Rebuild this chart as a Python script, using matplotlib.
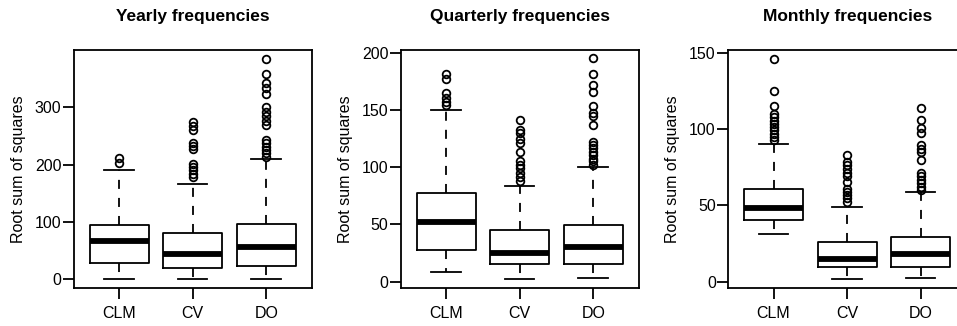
import matplotlib
matplotlib.use("Agg")
import matplotlib.pyplot as plt

plt.rcParams['font.family'] = ['Liberation Sans', 'DejaVu Sans']

groups = ["CLM", "CV", "DO"]
titles = ["Yearly frequencies", "Quarterly frequencies", "Monthly frequencies"]

# box stats per panel: [whislo, q1, median, q3, whishi] for CLM, CV, DO
yearly_stats = [[1, 29, 67, 95, 191],
                [0.5, 20, 45, 80, 167],
                [0.5, 23, 57, 97, 210]]
yearly_out = [[203, 212],
              [179, 184, 191, 196, 202, 227, 233, 238, 260, 267, 275],
              [214, 220, 226, 231, 237, 243, 269, 276, 284, 292, 300, 324, 334, 342, 358, 384]]

quarterly_stats = [[8, 28, 52, 77.5, 150],
                   [2, 15.5, 25, 45, 83.5],
                   [3.5, 15.5, 30, 49.5, 100]]
quarterly_out = [[154, 157, 160.5, 164.5, 177, 181],
                 [88, 91.5, 95, 99, 102, 105, 113.5, 121, 125, 129.5, 132.5, 141],
                 [102, 105, 107.5, 110.5, 113.5, 116.5, 119.5, 122, 137, 145, 147, 153, 166, 172, 181, 195]]

monthly_stats = [[31.5, 40.5, 48.5, 60.5, 90],
                 [1.5, 9.6, 15, 26.2, 49],
                 [2.6, 9.6, 18, 29.5, 58.5]]
monthly_out = [[93, 95, 97, 99, 101.5, 103, 105.5, 108, 110, 115, 125, 146],
               [52.5, 54.5, 57, 59, 61, 65.5, 69, 71, 74, 76.5, 78.5, 83],
               [60, 62, 64.5, 66.5, 69, 71, 80, 85, 87, 89.5, 97.5, 100.5, 106, 114]]

all_stats = [yearly_stats, quarterly_stats, monthly_stats]
all_out = [yearly_out, quarterly_out, monthly_out]
yticks = [[0, 100, 200, 300], [0, 50, 100, 150, 200], [0, 50, 100, 150]]
ylims = [(-14.3, 400), (-5.1, 202.3), (-3.8, 151.7)]

W, H = 957, 326
fig = plt.figure(figsize=(W / 100, H / 100), dpi=100)

lefts = [73.5, 400.5, 728]
aw, ab, ah = 238.3, 326 - 287.5, 237.5

lw = 1.3
for k in range(3):
    ax = fig.add_axes([lefts[k] / W, ab / H, aw / W, ah / H])
    stats = []
    for g, s, o in zip(groups, all_stats[k], all_out[k]):
        stats.append(dict(label=g, whislo=s[0], q1=s[1], med=s[2], q3=s[3],
                          whishi=s[4], fliers=o))
    ax.bxp(stats, positions=[1, 2, 3], widths=0.8,
           boxprops=dict(color="black", lw=lw),
           medianprops=dict(color="black", lw=4.2, solid_capstyle="butt"),
           whiskerprops=dict(color="black", lw=lw, linestyle=(0, (5, 5))),
           capprops=dict(color="black", lw=lw),
           flierprops=dict(marker="o", markerfacecolor="none",
                           markeredgecolor="black", markersize=5.5,
                           markeredgewidth=1.3),
           capwidths=0.4)
    ax.set_xlim(0.38, 3.62)
    ax.set_ylim(*ylims[k])
    ax.set_yticks(yticks[k])
    ax.set_xticks([1, 2, 3])
    ax.set_xticklabels(groups)
    for sp in ax.spines.values():
        sp.set_linewidth(lw)
    ax.tick_params(axis="both", direction="out", length=8, width=lw,
                   labelsize=11.5)
    ax.tick_params(axis="y", pad=0.8)
    ax.tick_params(axis="x", pad=5)
    ax.set_title(titles[k], fontsize=12.5, fontweight="bold", pad=21)
    ax.set_ylabel("Root sum of squares", fontsize=11.5)
    ax.yaxis.set_label_coords(-55 / aw, 0.5)
    ax.yaxis.label.set_verticalalignment("center")

fig.savefig("out.png", dpi=100)
